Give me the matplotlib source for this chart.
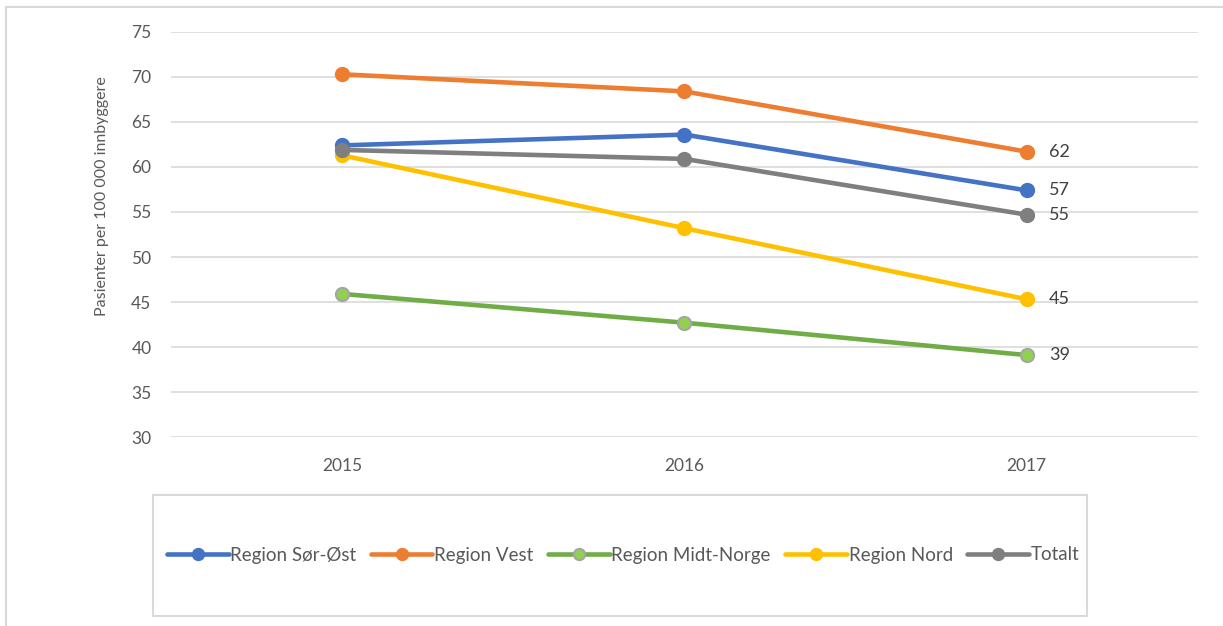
import matplotlib.pyplot as plt
from matplotlib.patches import Rectangle

plt.rcParams['font.family'] = ['Lato', 'DejaVu Sans']

years = ['2015', '2016', '2017']
sor_ost = [62.4, 63.6, 57.4]
vest = [70.3, 68.4, 61.7]
midt_norge = [45.9, 42.7, 39.1]
nord = [61.3, 53.2, 45.3]
totalt = [61.9, 60.9, 54.7]

series = [
    ('Region Sør-Øst', sor_ost, '#4472C4', '#4472C4', '#4472C4'),
    ('Region Vest', vest, '#ED7D31', '#ED7D31', '#ED7D31'),
    ('Region Midt-Norge', midt_norge, '#70AD47', '#92D050', '#A5A5A5'),
    ('Region Nord', nord, '#FFC000', '#FFC000', '#FFC000'),
    ('Totalt', totalt, '#7F7F7F', '#7F7F7F', '#7F7F7F'),
]

fig = plt.figure(figsize=(12.23, 6.26), dpi=100)
ax = fig.add_axes([0.1398, 0.3019, 0.9795 - 0.1398, 0.9489 - 0.3019])

x = range(len(years))
for name, vals, col, face, edge in series:
    ax.plot(x, vals, color=col, lw=3.3, marker='o', ms=9.5,
            mfc=face, mec=edge, mew=1.5, label=name, solid_capstyle='round')
    ax.annotate(f'{vals[-1]:.0f}', (x[-1], vals[-1]), xytext=(16, 0),
                textcoords='offset points', va='center', ha='left',
                fontsize=13, color='#404040')

ax.set_xlim(-0.5, 2.5)
ax.set_ylim(30, 75)
ax.set_yticks(range(30, 80, 5))
ax.set_xticks(list(x))
ax.set_xticklabels(years)
ax.grid(axis='y', color='#D9D9D9', lw=1.2)
ax.set_axisbelow(True)
for s in ax.spines.values():
    s.set_visible(False)
ax.tick_params(length=0, labelsize=12.5, labelcolor='#595959')
ax.tick_params(axis='y', pad=14)
ax.tick_params(axis='x', pad=15)
ax.set_ylabel('Pasienter per 100 000 innbyggere', fontsize=11.5, color='#595959')
ax.yaxis.set_label_coords(-0.06, 0.595)

# outer border and legend box
fig.patches.append(Rectangle((6 / 1223, -0.01), 1.02, 1 - 7 / 626 + 0.01,
                             transform=fig.transFigure, fill=False,
                             edgecolor='#D9D9D9', lw=1.5))
fig.patches.append(Rectangle((153 / 1223, 1 - 616 / 626), (1087 - 153) / 1223,
                             (616 - 495) / 626, transform=fig.transFigure,
                             fill=False, edgecolor='#D9D9D9', lw=1.5))

fig.legend(loc='center', bbox_to_anchor=(623 / 1223, 1 - 555 / 626),
           ncol=5, frameon=False, fontsize=13.5, handlelength=3.3,
           handletextpad=0.1, columnspacing=0.75, labelcolor='#595959',
           markerscale=0.85)

fig.savefig('out.png', dpi=100)
